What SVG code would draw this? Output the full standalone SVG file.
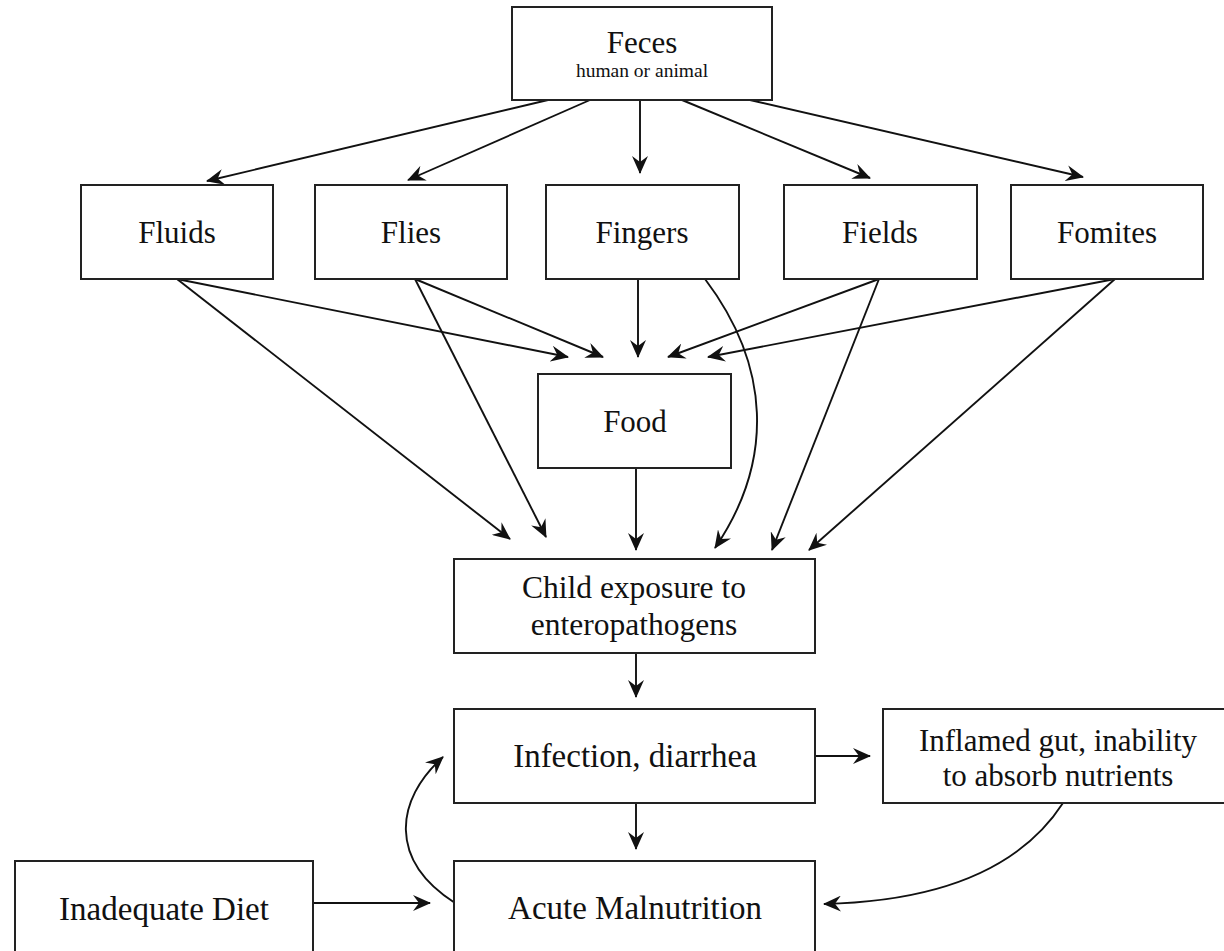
<svg xmlns="http://www.w3.org/2000/svg" width="1224" height="951" viewBox="0 0 1224 951">
<style>
.box{fill:#fff;stroke:#222;stroke-width:2}
.t{font-family:"Liberation Serif","Times New Roman",serif;fill:#111;text-anchor:middle}
.c{fill:none;stroke:#111;stroke-width:1.9;marker-end:url(#ah)}
</style>
<defs>
<marker id="ah" viewBox="0 0 18 16" refX="17" refY="8" markerWidth="18" markerHeight="16" markerUnits="userSpaceOnUse" orient="auto">
<path d="M0,0 L18,8 L0,16 L6,8 z" fill="#111"/>
</marker>
</defs>
<rect width="1224" height="951" fill="#fff"/>
<g id="connectors">
<line class="c" x1="548" y1="100" x2="207" y2="181"/>
<line class="c" x1="590" y1="100" x2="408" y2="180"/>
<line class="c" x1="640" y1="100" x2="640" y2="173"/>
<line class="c" x1="682" y1="100" x2="870" y2="178"/>
<line class="c" x1="750" y1="100" x2="1083" y2="177"/>
<line class="c" x1="177" y1="279" x2="568" y2="357"/>
<line class="c" x1="415" y1="279" x2="603" y2="357"/>
<line class="c" x1="638" y1="279" x2="638" y2="357"/>
<line class="c" x1="879" y1="279" x2="668" y2="357"/>
<line class="c" x1="1115" y1="279" x2="708" y2="357"/>
<line class="c" x1="177" y1="279" x2="510" y2="539"/>
<line class="c" x1="415" y1="279" x2="546" y2="537"/>
<line class="c" x1="636" y1="468" x2="636" y2="550"/>
<path class="c" d="M705,279 C770,365 775,460 715,548"/>
<line class="c" x1="879" y1="279" x2="772" y2="550"/>
<line class="c" x1="1115" y1="279" x2="809" y2="550"/>
<line class="c" x1="636" y1="653" x2="636" y2="697"/>
<line class="c" x1="636" y1="803" x2="636" y2="849"/>
<line class="c" x1="815" y1="756" x2="870" y2="756"/>
<line class="c" x1="313" y1="903" x2="430" y2="903"/>
<path class="c" d="M455,903 C388,860 395,800 443,757"/>
<path class="c" d="M1063,803 Q1000,900 824,904"/>
</g>
<g id="feces">
<rect class="box" x="512" y="7" width="260" height="93"/>
<text class="t" x="642" y="53" font-size="31">Feces</text>
<text class="t" x="642" y="77" font-size="19.5">human or animal</text>
</g>
<g id="fluids">
<rect class="box" x="81" y="185" width="192" height="94"/>
<text class="t" x="177" y="243" font-size="31">Fluids</text>
</g>
<g id="flies">
<rect class="box" x="315" y="185" width="192" height="94"/>
<text class="t" x="411" y="243" font-size="31">Flies</text>
</g>
<g id="fingers">
<rect class="box" x="546" y="185" width="193" height="94"/>
<text class="t" x="642" y="243" font-size="31">Fingers</text>
</g>
<g id="fields">
<rect class="box" x="784" y="185" width="193" height="94"/>
<text class="t" x="880" y="243" font-size="31">Fields</text>
</g>
<g id="fomites">
<rect class="box" x="1011" y="185" width="192" height="94"/>
<text class="t" x="1107" y="243" font-size="31">Fomites</text>
</g>
<g id="food">
<rect class="box" x="538" y="374" width="193" height="94"/>
<text class="t" x="635" y="432" font-size="31">Food</text>
</g>
<g id="child-exposure">
<rect class="box" x="454" y="559" width="361" height="94"/>
<text class="t" x="634" y="598" font-size="31.5">Child exposure to</text>
<text class="t" x="634" y="635" font-size="31.5">enteropathogens</text>
</g>
<g id="infection">
<rect class="box" x="454" y="709" width="361" height="94"/>
<text class="t" x="635" y="767" font-size="33">Infection, diarrhea</text>
</g>
<g id="inflamed">
<rect class="box" x="883" y="709" width="360" height="94"/>
<text class="t" x="1058" y="751" font-size="31">Inflamed gut, inability</text>
<text class="t" x="1058" y="786" font-size="31">to absorb nutrients</text>
</g>
<g id="acute">
<rect class="box" x="454" y="861" width="361" height="120"/>
<text class="t" x="635" y="919" font-size="33">Acute Malnutrition</text>
</g>
<g id="inadequate-diet">
<rect class="box" x="15" y="861" width="298" height="120"/>
<text class="t" x="164" y="920" font-size="33">Inadequate Diet</text>
</g>
</svg>
